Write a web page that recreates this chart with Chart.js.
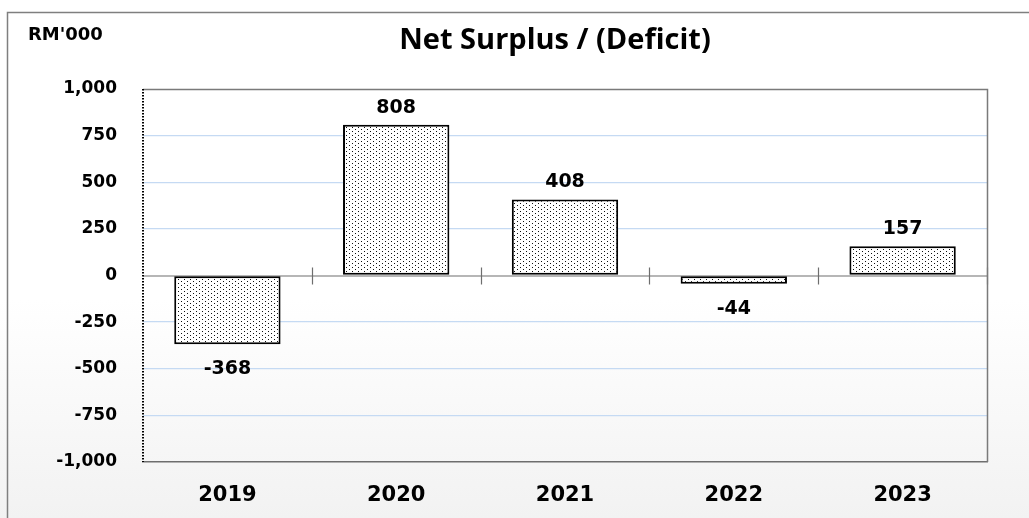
<!DOCTYPE html>
<html>
<head>
<meta charset="utf-8">
<script src="https://cdn.jsdelivr.net/npm/chart.js@4.4.1/dist/chart.umd.min.js"></script>
<style>
  html, body { margin: 0; padding: 0; background: #fff; }
  #wrap { width: 1029px; height: 518px; }
</style>
</head>
<body>
<div id="wrap"><canvas id="myChart" width="1029" height="518"></canvas></div>
<script>
// data
const years = ["2019", "2020", "2021", "2022", "2023"];
const surplus = [-368, 808, 408, -44, 157];
const yTicks = [-1000, -750, -500, -250, 0, 250, 500, 750, 1000];
const chartTitle = "Net Surplus / (Deficit)";
const unitLabel = "RM'000";

function fmt(v) {
  return v.toLocaleString("en-US");
}

// dotted fill like the excel pattern
function dotPattern() {
  const c = document.createElement("canvas");
  c.width = 6;
  c.height = 4;
  const g = c.getContext("2d");
  g.fillStyle = "#fff";
  g.fillRect(0, 0, 6, 4);
  g.fillStyle = "#111";
  g.fillRect(1, 1, 1, 1);
  g.fillRect(4, 3, 1, 1);
  return g.createPattern(c, "repeat");
}

const extras = {
  id: "extras",
  beforeDraw(chart) {
    const ctx = chart.ctx;
    ctx.save();
    const grad = ctx.createLinearGradient(0, 300, 0, 518);
    grad.addColorStop(0, "rgba(255,255,255,1)");
    grad.addColorStop(1, "rgba(242,242,242,1)");
    ctx.fillStyle = grad;
    ctx.fillRect(0, 300, 1029, 218);
    // outer frame
    ctx.strokeStyle = "#7f7f7f";
    ctx.lineWidth = 1.5;
    ctx.strokeRect(7.5, 12.5, 1040, 530);
    // title + unit
    ctx.fillStyle = "#000";
    ctx.textBaseline = "middle";
    ctx.textAlign = "center";
    ctx.font = "bold 29px 'Open Sans', sans-serif";
    ctx.fillText(chartTitle, 555, 41);
    ctx.textAlign = "left";
    ctx.font = "bold 18px 'DejaVu Sans', sans-serif";
    ctx.fillText(unitLabel, 28, 35);
    ctx.restore();
  },
  beforeDatasetsDraw(chart) {
    const ctx = chart.ctx;
    const area = chart.chartArea;
    const y0 = chart.scales.y.getPixelForValue(0);
    const step = (area.right - area.left) / years.length;
    ctx.save();
    // zero line with category ticks
    ctx.strokeStyle = "#6e6e6e";
    ctx.lineWidth = 1.2;
    ctx.beginPath();
    for (let i = 1; i <= years.length; i++) {
      const xp = Math.round(area.left + step * i) + 0.5;
      ctx.moveTo(xp, y0 - 8);
      ctx.lineTo(xp, y0 + 9);
    }
    ctx.moveTo(area.left, y0 + 0.5);
    ctx.lineTo(area.right, y0 + 0.5);
    ctx.stroke();
    // right and top frame of the plot
    ctx.strokeStyle = "#7a7a7a";
    ctx.lineWidth = 1.5;
    ctx.beginPath();
    ctx.moveTo(area.left, area.top + 0.5);
    ctx.lineTo(area.right + 0.5, area.top + 0.5);
    ctx.lineTo(area.right + 0.5, area.bottom);
    ctx.stroke();
    // dotted left axis
    ctx.strokeStyle = "#000";
    ctx.lineWidth = 2;
    ctx.setLineDash([1.5, 1.5]);
    ctx.beginPath();
    ctx.moveTo(area.left, area.top);
    ctx.lineTo(area.left, area.bottom);
    ctx.stroke();
    ctx.setLineDash([]);
    ctx.restore();
  },
  afterDatasetsDraw(chart) {
    const ctx = chart.ctx;
    const meta = chart.getDatasetMeta(0);
    ctx.save();
    ctx.fillStyle = "#000";
    ctx.font = "bold 19px 'DejaVu Sans', sans-serif";
    ctx.textAlign = "center";
    ctx.textBaseline = "middle";
    meta.data.forEach((bar, i) => {
      const v = surplus[i];
      const ty = v >= 0 ? bar.y - 17 : bar.y + 25;
      ctx.fillText(fmt(v), bar.x, ty);
    });
    ctx.restore();
  }
};

new Chart(document.getElementById("myChart"), {
  type: "bar",
  data: {
    labels: years,
    datasets: [{
      data: surplus,
      backgroundColor: dotPattern(),
      borderColor: "#000",
      borderWidth: 2,
      borderSkipped: false,
      categoryPercentage: 1,
      barPercentage: 0.63
    }]
  },
  options: {
    responsive: false,
    animation: false,
    layout: { padding: { top: 89, right: 42, left: 0, bottom: 0 } },
    plugins: {
      legend: { display: false },
      tooltip: { enabled: false },
      title: { display: false }
    },
    scales: {
      x: {
        grid: { display: false },
        border: { display: true, color: "#6e6e6e", width: 1.5 },
        ticks: {
          color: "#000",
          padding: 13,
          font: { family: "'DejaVu Sans', sans-serif", size: 21, weight: "bold" }
        },
        afterFit(scale) { scale.height = 56; }
      },
      y: {
        min: -1000,
        max: 1000,
        afterBuildTicks(scale) {
          scale.ticks = yTicks.map(v => ({ value: v }));
        },
        grid: {
          drawTicks: false,
          color(c) {
            const v = c.tick ? c.tick.value : null;
            if (v === 1000 || v === 0 || v === -1000) return "rgba(0,0,0,0)";
            return "#c5daf3";
          },
          lineWidth: 1.3
        },
        border: { display: false },
        ticks: {
          color: "#000",
          padding: 26,
          font: { family: "'DejaVu Sans', sans-serif", size: 17, weight: "bold" },
          callback: v => fmt(v)
        },
        afterFit(scale) { scale.width = 143; }
      }
    }
  },
  plugins: [extras]
});
</script>
</body>
</html>
